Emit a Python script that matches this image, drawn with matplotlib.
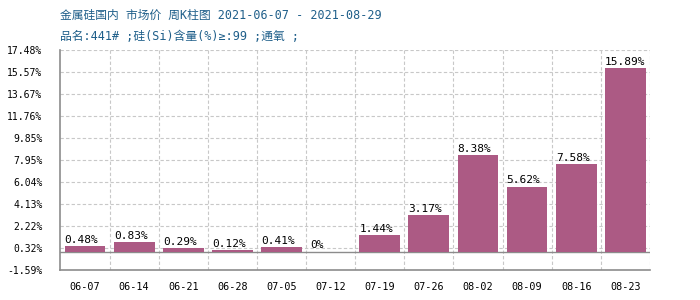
import matplotlib.pyplot as plt
import numpy as np

# data
weeks = ["06-07", "06-14", "06-21", "06-28", "07-05", "07-12",
         "07-19", "07-26", "08-02", "08-09", "08-16", "08-23"]
changes = [0.48, 0.83, 0.29, 0.12, 0.41, 0, 1.44, 3.17, 8.38, 5.62, 7.58, 15.89]
labels = ["0.48%", "0.83%", "0.29%", "0.12%", "0.41%", "0%",
          "1.44%", "3.17%", "8.38%", "5.62%", "7.58%", "15.89%"]
yticks = [-1.59, 0.32, 2.22, 4.13, 6.04, 7.95, 9.85, 11.76, 13.67, 15.57, 17.48]
title1 = "金属硅国内 市场价 周K柱图 2021-06-07 - 2021-08-29"
title2 = "品名:441# ;硅(Si)含量(%)≥:99 ;通氧 ;"

mono = ["DejaVu Sans Mono"]
mixed = ["DejaVu Sans Mono", "Noto Sans CJK SC"]

fig = plt.figure(figsize=(7, 3), dpi=100)
ax = fig.add_axes([0.0864, 0.1, 0.842, 0.7333])

x = np.arange(len(weeks))
bw = 0.83
ax.bar(x, changes, width=bw, color="#ac5a84", zorder=3)

for xi, v, lab in zip(x, changes, labels):
    ax.text(xi - bw / 2, v + 0.12, lab, ha="left", va="bottom",
            fontsize=8, family=mono, color="black", zorder=4)

ax.set_xlim(-0.5, len(weeks) - 0.5)
ax.set_ylim(yticks[0], yticks[-1])
ax.set_yticks(yticks)
ax.set_yticklabels(["%.2f%%" % t for t in yticks], family=mono, fontsize=7)
ax.set_xticks(x)
ax.set_xticklabels(weeks, family=mono, fontsize=7.3)
ax.tick_params(length=0, pad=9)
ax.tick_params(axis="y", pad=13)

# grid
for t in yticks[1:]:
    ax.axhline(t, color="#c8c8c8", lw=0.8, ls=(0, (3, 2)), zorder=1)
for b in np.arange(0.5, len(weeks), 1):
    ax.axvline(b, color="#c8c8c8", lw=0.8, ls=(0, (3, 2)), zorder=1)
ax.axhline(0, color="#8c8c8c", lw=1, zorder=2)

for s in ["top", "right"]:
    ax.spines[s].set_visible(False)
for s in ["left", "bottom"]:
    ax.spines[s].set_color("#8c8c8c")
    ax.spines[s].set_linewidth(1.2)

fig.text(60 / 700, 1 - 15 / 300, title1, family=mixed, fontsize=8.5,
         color="#1f5f8a", va="center", ha="left")
fig.text(60 / 700, 1 - 36 / 300, title2, family=mixed, fontsize=8.5,
         color="#1f5f8a", va="center", ha="left")

fig.savefig("out.png", dpi=100)
